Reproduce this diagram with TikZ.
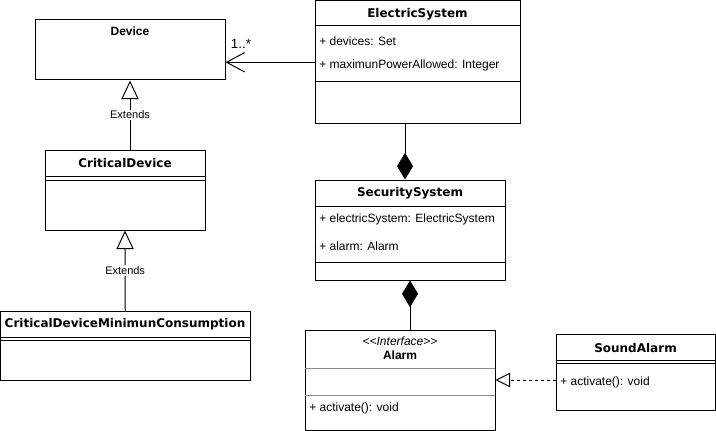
\documentclass[tikz,border=0pt]{standalone}
\usepackage{fontspec}
\setmainfont{Liberation Sans}
\newfontfamily\djvfont{DejaVu Sans}
\usetikzlibrary{arrows.meta,fit}

\tikzset{
  umlclass/.style={draw, line width=0.75pt, inner sep=0pt},
  classname/.style={inner sep=0pt, font=\djvfont\bfseries\fontsize{9}{11}\selectfont},
  plainname/.style={inner sep=0pt, font=\bfseries\fontsize{9}{11}\selectfont},
  attr/.style={anchor=west, inner sep=0pt, font=\fontsize{9}{11}\selectfont},
  extends/.style={-{Triangle[open,length=14pt,width=13pt]}, line width=0.75pt},
  realizes/.style={-{Triangle[open,length=11pt,width=11pt]}, line width=0.75pt, dash pattern=on 2.25pt off 2.25pt},
  compose/.style={-{Diamond[length=20pt,width=12pt]}, line width=0.75pt},
  assoc/.style={-{Straight Barb[length=13.5pt,width=14.5pt]}, line width=0.75pt},
  tag/.style={fill=white, inner sep=1pt, font=\fontsize{8.25}{10}\selectfont},
}

\begin{document}
\begin{tikzpicture}[x=0.75pt,y=-0.75pt]
\useasboundingbox (0,0) rectangle (716,431);

% Device
\node[umlclass, fit={(35,20) (225,80)}] (device) {};
\node[plainname] (device-name) at (130,31) {Device};

% ElectricSystem
\node[umlclass, fit={(315,0.5) (520,124)}] (es) {};
\node[classname] (es-name) at (417.5,14) {ElectricSystem};
\draw[line width=0.75pt] (315,26) -- (520,26) (315,82) -- (520,82);
\node[attr] (es-a1) at (319,41) {+ devices: Set};
\node[attr] (es-a2) at (319,65) {+ maximunPowerAllowed: Integer};

% SecuritySystem
\node[umlclass, fit={(315,180) (505,280)}] (ss) {};
\node[classname] (ss-name) at (410,193) {SecuritySystem};
\draw[line width=0.75pt] (315,206) -- (505,206) (315,262) -- (505,262);
\node[attr] (ss-a1) at (319,219) {+ electricSystem: ElectricSystem};
\node[attr] (ss-a2) at (319,246) {+ alarm: Alarm};

% CriticalDevice
\node[umlclass, fit={(45,150) (205,230)}] (cd) {};
\node[classname] (cd-name) at (125,163) {CriticalDevice};
\draw[line width=0.75pt] (45,176) -- (205,176) (45,180) -- (205,180);

% CriticalDeviceMinimunConsumption
\node[umlclass, fit={(0.5,311) (250,380)}] (cdmc) {};
\node[classname] (cdmc-name) at (125,324) {CriticalDeviceMinimunConsumption};
\draw[line width=0.75pt] (0.5,337) -- (250,337) (0.5,340) -- (250,340);

% Alarm
\node[umlclass, fit={(305,330) (495,430)}] (alarm) {};
\node[inner sep=0pt, font=\itshape\fontsize{9}{11}\selectfont] (alarm-stereo) at (400,341) {<\kern0pt<Interface>\kern0pt>};
\node[plainname] (alarm-name) at (400,355) {Alarm};
\draw[line width=0.75pt, black!45] (305,368) -- (495,368) (305,395) -- (495,395);
\node[attr] (alarm-o1) at (309,408) {+ activate(): void};

% SoundAlarm
\node[umlclass, fit={(556,334) (715,410)}] (sa) {};
\node[classname] (sa-name) at (635.5,348) {SoundAlarm};
\draw[line width=0.75pt] (556,360) -- (715,360) (556,363) -- (715,363);
\node[attr] (sa-o1) at (560,382) {+ activate(): void};

% connectors
\draw[assoc] (es.west) -- (device.east |- es.west);
\node[inner sep=0pt, font=\fontsize{10}{12}\selectfont] (mult) at (241,44) {1..*};
\coordinate (es-foot) at (405,124);
\draw[compose] (es-foot) -- (es-foot |- ss.north);
\draw[compose] (alarm.north -| ss.south) -- (ss.south);
\draw[extends] (cd.north -| device.south) -- (device.south) node[tag, midway] (ext1) {Extends};
\draw[extends] (cdmc.north) -- (cd.south) node[tag, midway] (ext2) {Extends};
\draw[realizes] (sa.west |- alarm.east) -- (alarm.east);
\end{tikzpicture}
\end{document}
